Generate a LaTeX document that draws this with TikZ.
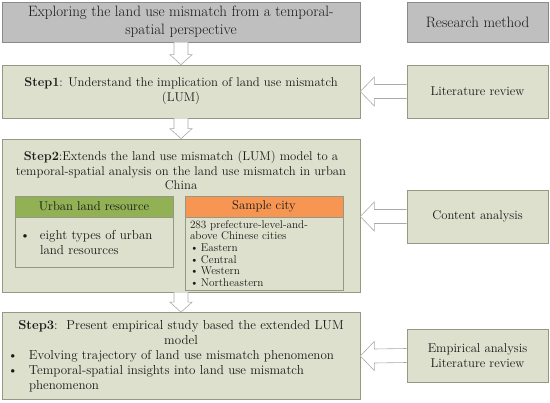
\documentclass[tikz,border=0pt]{standalone}
\usepackage{tikz}
\usetikzlibrary{arrows.meta, positioning, calc}
\usepackage{xcolor}

\definecolor{headgray}{RGB}{191,191,191}
\definecolor{headline}{RGB}{138,138,138}
\definecolor{sage}{RGB}{221,224,204}
\definecolor{sageline}{RGB}{150,152,132}
\definecolor{leafgreen}{RGB}{146,176,84}
\definecolor{tangerine}{RGB}{246,150,82}
\definecolor{arrowline}{RGB}{170,170,170}
\definecolor{inktext}{RGB}{25,25,25}

\newcommand{\bul}[1]{\makebox[#1][l]{\textbullet}}

\begin{document}
\begin{tikzpicture}[
    x=1pt, y=-1pt,
    every node/.style={text=inktext},
    headbox/.style={
        draw=headline, fill=headgray, line width=0.6pt, align=center,
        font=\fontsize{15}{18}\selectfont
    },
    stepbox/.style={
        draw=sageline, fill=sage, line width=0.6pt, align=center,
        minimum width=358pt, font=\fontsize{12.7}{15}\selectfont
    },
    methodbox/.style={
        draw=sageline, fill=sage, line width=0.6pt, align=center,
        minimum width=141pt, minimum height=53pt, font=\fontsize{12.7}{15}\selectfont
    },
    tabhead/.style={
        draw=sageline, line width=0.6pt, minimum width=158pt, minimum height=21pt,
        font=\fontsize{12.7}{14}\selectfont
    },
    tabbody/.style={
        draw=sageline, fill=sage, line width=0.6pt, minimum width=158pt,
        align=left, inner xsep=5pt
    },
    flowarrow/.style={draw=arrowline, fill=white, line width=0.6pt},
    downarrow/.style={
        flowarrow,
        to path={
            ($(\tikztostart)+(-7,0)$) -- ($(\tikztotarget)+(-7,-10)$)
            -- ($(\tikztotarget)+(-11,-10)$) -- (\tikztotarget)
            -- ($(\tikztotarget)+(11,-10)$) -- ($(\tikztotarget)+(7,-10)$)
            -- ($(\tikztostart)+(7,0)$)
        }
    },
    leftarrow/.style={
        flowarrow,
        to path={
            ($(\tikztostart)+(0,-7)$) -- ($(\tikztotarget)+(14,-7)$)
            -- ($(\tikztotarget)+(14,-14.5)$) -- (\tikztotarget)
            -- ($(\tikztotarget)+(14,14.5)$) -- ($(\tikztotarget)+(14,7)$)
            -- ($(\tikztostart)+(0,7)$)
        }
    }
]

\useasboundingbox (0,0) rectangle (550,403);

% Header row
\node[headbox, minimum width=358pt, minimum height=40pt] (title) at (181,22)
    {Exploring the land use mismatch from a temporal-\\spatial perspective};
\node[headbox, minimum width=141pt, minimum height=40pt] (method) at (477.5,22)
    {Research method};

% Steps
\node[stepbox, minimum height=53pt] (step1) at (181,91.5)
    {\textbf{Step1}: Understand the implication of land use mismatch\\(LUM)};
\node[stepbox, minimum height=153pt] (step2) at (181,215.5) {};
\node[align=center, font=\fontsize{12.7}{14.5}\selectfont, below=9pt of step2.north] (step2text)
    {\textbf{Step2}:Extends the land use mismatch (LUM) model to a\\
     temporal-spatial analysis on the land use mismatch in urban\\China};
\node[stepbox, minimum height=87pt, text width=346pt, align=left, inner xsep=6pt,
      font=\fontsize{13}{15}\selectfont] (step3) at (181,356)
    {{\centering\textbf{Step3}:\ \ Present empirical study based the extended LUM\\model\par}
     \bul{21pt}Evolving trajectory of land use mismatch phenomenon\\
     \bul{21pt}Temporal-spatial insights into land use mismatch\\
     \hspace*{21pt}phenomenon};

% Inner table of step 2
\node[tabhead, fill=leafgreen] (urbanhead) at (94,206.5) {Urban land resource};
\node[tabbody, minimum height=50pt, text width=148pt, font=\fontsize{13}{15}\selectfont] (urbanbody) at (94,242)
    {\bul{20pt}eight types of urban\\\hspace*{20pt}land resources};
\node[tabhead, fill=tangerine] (cityhead) at (264,206.5) {Sample city};
\node[tabbody, minimum height=73pt, text width=148pt, font=\fontsize{11.2}{11.6}\selectfont] (citybody) at (264,253.5)
    {283 prefecture-level-and-\\above Chinese cities\\
     \bul{11pt}Eastern\\\bul{11pt}Central\\\bul{11pt}Western\\\bul{11pt}Northeastern};

% Research methods
\node[methodbox] (litrev) at (477.5,91.5) {Literature review};
\node[methodbox] (content) at (477.5,216.5) {Content analysis};
\node[methodbox] (empirical) at (477.5,355.5) {Empirical analysis\\Literature review};

% Flow arrows
\draw[downarrow] (title.south) to (step1.north);
\draw[downarrow] (step1.south) to (step2.north);
\draw[downarrow] (step2.south) to (step3.north);

\draw[leftarrow] (litrev.west) to (step1.east);
\draw[leftarrow] (content.west) to (step2.east |- content.west);
\draw[leftarrow] (empirical.west) to (step3.east);

\end{tikzpicture}
\end{document}
